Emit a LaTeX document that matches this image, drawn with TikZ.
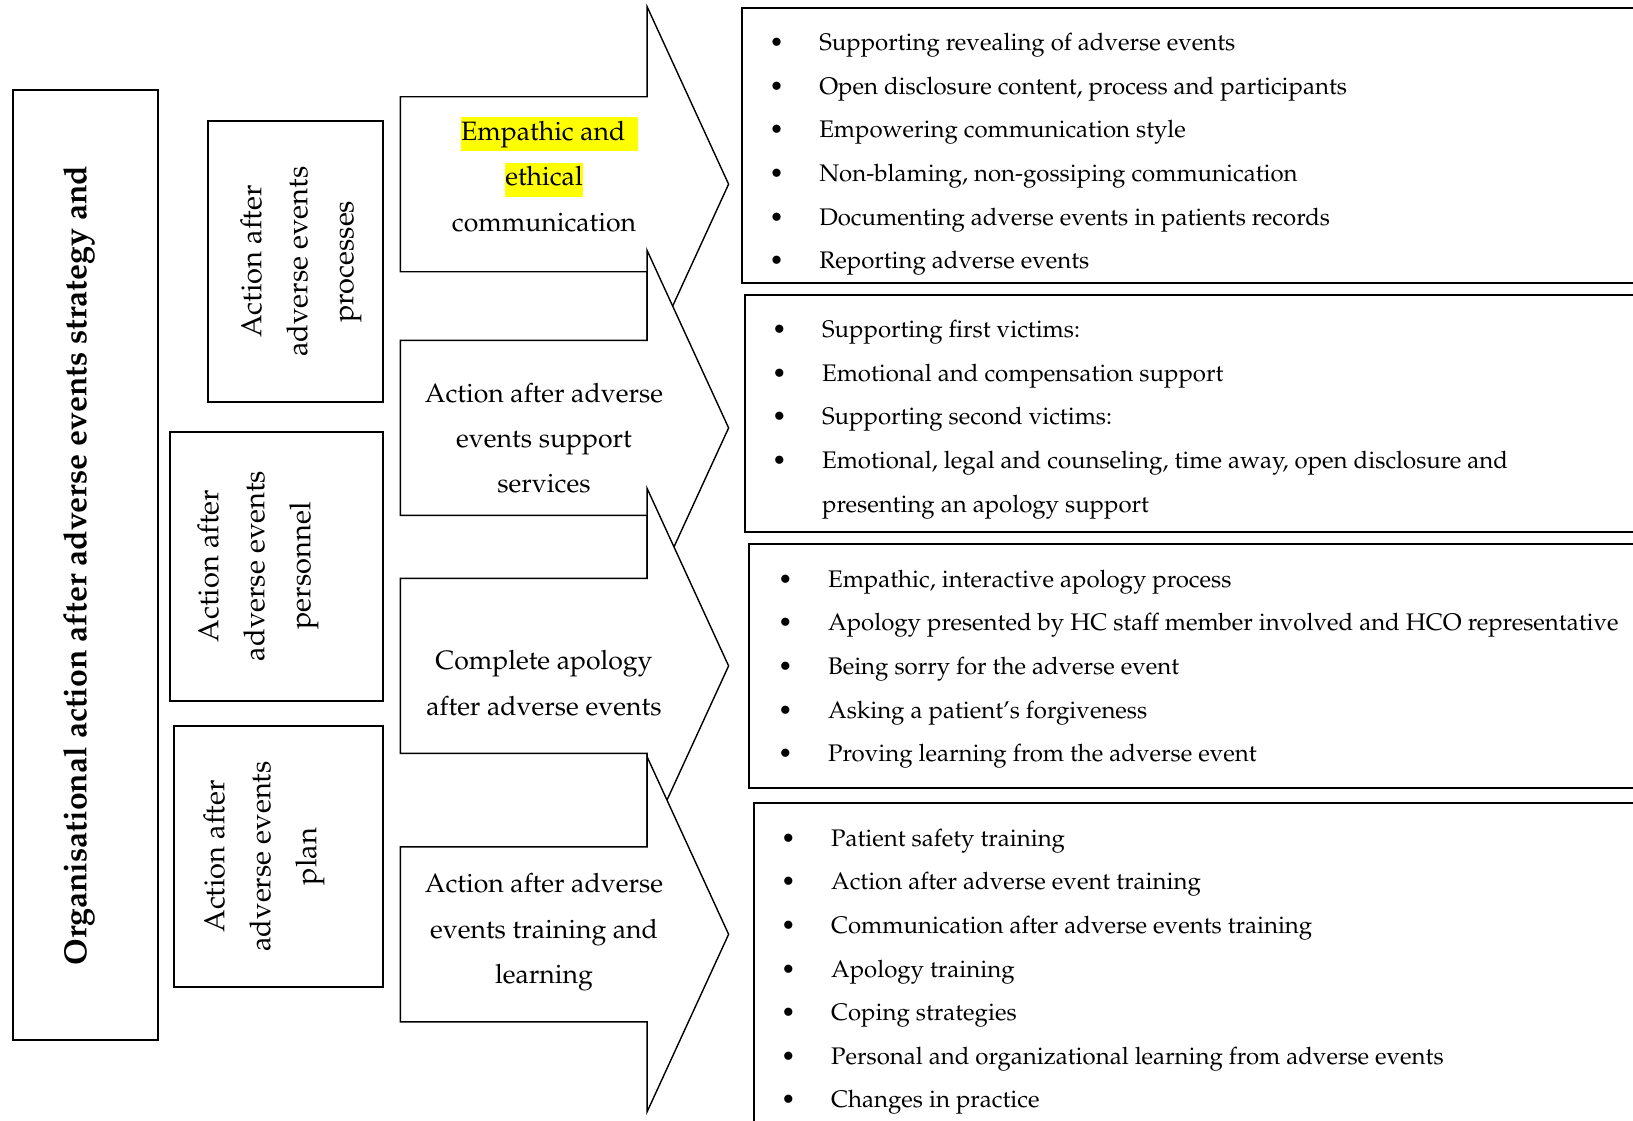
\documentclass[tikz,border=0pt]{standalone}
\usepackage[T1]{fontenc}
\usepackage{mathpazo}
\usepackage{xcolor}
\usepackage{tikz}
\definecolor{hl}{HTML}{FFFF00}
\newcommand{\hlbox}[1]{{\setlength{\fboxsep}{0pt}\colorbox{hl}{\rule[-5.5pt]{0pt}{17pt}#1}}}
\newcommand{\bul}{\makebox[25pt][l]{\textbullet}}

\tikzset{
  frame/.style={draw, line width=1pt},
  arrowbox/.style={draw, fill=white, line width=0.7pt, line join=miter},
  title/.style={rotate=90, inner sep=0pt, font=\fontsize{16}{23}\selectfont\bfseries},
  side/.style={rotate=90, inner sep=0pt, align=center, font=\fontsize{14.5}{23}\selectfont},
  arrowtext/.style={anchor=north, inner sep=0pt, align=center, font=\fontsize{13.3}{22.65}\selectfont},
  list/.style={anchor=north west, inner sep=0pt, align=left, font=\fontsize{12}{21.8}\selectfont}
}

\begin{document}
\begin{tikzpicture}[x=0.5pt, y=-0.5pt]
  \clip (0,0) rectangle (1633,1120);
  % boxes on the right
  \draw[frame] (741.7,7.9) rectangle (1700,283.2);
  \draw[frame] (745.2,295) rectangle (1700,532.1);
  \draw[frame] (749.4,544.4) rectangle (1700,787.9);
  \draw[frame] (753.6,803.4) rectangle (1700,1200);
  % arrows, each one drawn over the one before
  \foreach \c in {184.2,427.9,665.9,934.3}
    \filldraw[arrowbox] (400.4,\c-87.5) -- (647.1,\c-87.5) -- (647.1,\c-177.5) -- (728.6,\c)
      -- (647.1,\c+177.5) -- (647.1,\c+87.5) -- (400.4,\c+87.5) -- cycle;
  % boxes on the left
  \draw[frame] (13.1,90.4) rectangle (158,1039.6);
  \draw[frame] (208.4,121.4) rectangle (382.5,402.1);
  \draw[frame] (169.7,432) rectangle (382.5,700.7);
  \draw[frame] (173.5,726) rectangle (382.5,986.8);

  \node[title] (org) at (78.8,565.6) {Organisational action after adverse events strategy and};
  \node[side] (proc) at (301,261.6) {Action after\\adverse events\\processes};
  \node[side] (pers) at (258,566) {Action after\\adverse events\\personnel};
  \node[side] (plan) at (264,856.4) {Action after\\adverse events\\plan};

  \node[arrowtext] (comm) at (544,117) {\hspace*{5.7pt}\hlbox{Empathic and\ \hspace{3.1pt}}\\\hlbox{ethical}\\communication};
  \node[arrowtext] (supp) at (544,382.5) {Action after adverse\\events support\\services};
  \node[arrowtext] (apol) at (544,650.3) {Complete apology\\after adverse events};
  \node[arrowtext] (train) at (544,873.3) {Action after adverse\\events training and\\learning};

  \node[list] (comm list) at (768.9,32.9) {\bul Supporting revealing of adverse events\\
    \bul Open disclosure content, process and participants\\
    \bul Empowering communication style\\
    \bul Non-blaming, non-gossiping communication\\
    \bul Documenting adverse events in patients records\\
    \bul Reporting adverse events};
  \node[list] (supp list) at (771.7,320) {\bul Supporting first victims:\\
    \bul Emotional and compensation support\\
    \bul Supporting second victims:\\
    \bul Emotional, legal and counseling, time away, open disclosure and\\
    \hspace{25pt}presenting an apology support};
  \node[list] (apol list) at (777.7,569.5) {\bul Empathic, interactive apology process\\
    \bul Apology presented by HC staff member involved and HCO representative\\
    \bul Being sorry for the adverse event\\
    \bul Asking a patient's forgiveness\\
    \bul Proving learning from the adverse event};
  \node[list] (train list) at (780.7,828.5) {\bul Patient safety training\\
    \bul Action after adverse event training\\
    \bul Communication after adverse events training\\
    \bul Apology training\\
    \bul Coping strategies\\
    \bul Personal and organizational learning from adverse events\\
    \bul Changes in practice};
\end{tikzpicture}
\end{document}
